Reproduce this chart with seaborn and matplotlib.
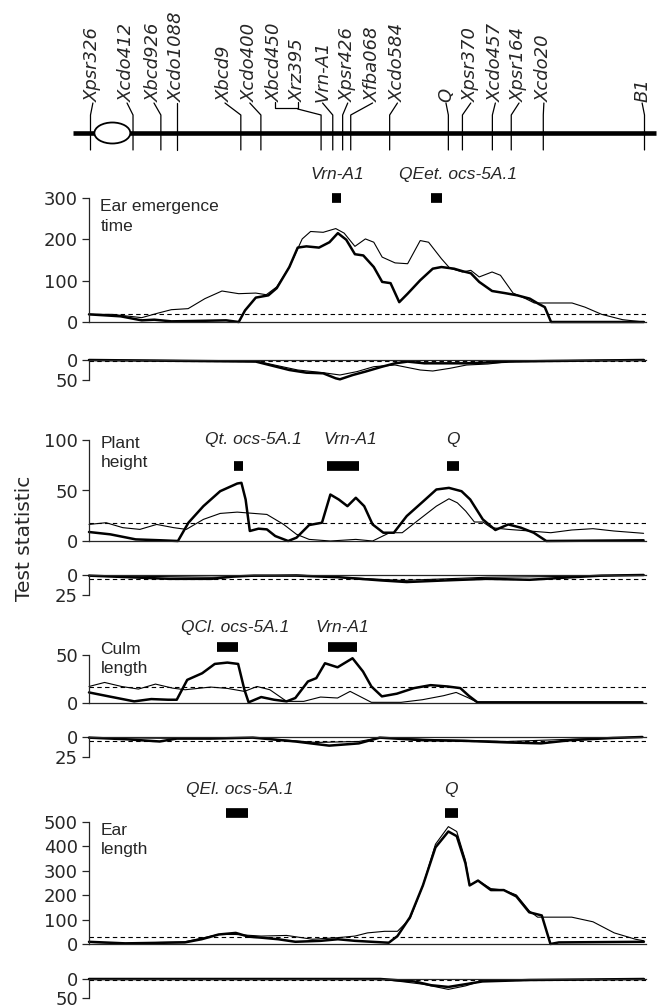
import matplotlib
matplotlib.use("Agg")
import matplotlib.pyplot as plt
from matplotlib.patches import Ellipse
import numpy as np
import pandas as pd
import seaborn as sns

# ---- chromosome 5A map (cM) ----
marker_names = ["Xpsr326", "Xcdo412", "Xbcd926", "Xcdo1088", "Xbcd9", "Xcdo400",
                "Xbcd450", "Xrz395", "Vrn-A1", "Xpsr426", "Xfba068", "Xcdo584",
                "Q", "Xpsr370", "Xcdo457", "Xpsr164", "Xcdo20", "B1"]
marker_cm = [0.5, 14.7, 24, 29.4, 50.7, 57.4, 77.5, 77.5, 81.4, 84.7, 87.4, 100.4,
             120, 124.7, 134.7, 141, 151.7, 185.5]
marker_label_cm = [1.3, 12.7, 21.7, 29.4, 45.4, 53.7, 62.1, 69.7, 78, 86.4, 94.7, 103,
                   119.2, 127.5, 135.7, 143.6, 151.9, 184.7]

# ---- ear emergence time ----
ee_thick_cm = [0, 10.6, 17.6, 21.8, 27.5, 34.5, 45.8, 50, 52.1, 55.7, 59.9, 62.7, 66.9, 69.7,
               72.6, 76.8, 80.3, 83.1, 85.9, 88.8, 91.6, 95.1, 97.9, 100.7, 103.6, 106.4,
               110.6, 114.8, 117.7, 121.9, 124.7, 127.5, 130.3, 134.6, 138.8, 143, 147.2,
               150.1, 152.2, 154.3, 185.3]
ee_thick_val = [18.5, 13.7, 4, 5.6, 1.6, 2.4, 4, 0, 28, 59, 64.5, 82, 133, 180,
                183, 180, 193, 215, 199, 164, 161, 133, 97, 94, 48, 68.5,
                101, 129, 133, 129, 123, 118, 97, 75, 70, 64.5, 56.5,
                44, 36, 0, 0]
ee_thin_cm = [0, 7.7, 17.6, 23.2, 27.5, 33.1, 38.7, 44.4, 50, 55.7, 59.2, 62.7, 66.9, 71.2,
              74, 78.2, 82.4, 85.2, 88.8, 92.3, 95.1, 97.9, 102.2, 106.4, 110.6, 113.4,
              117.7, 120.5, 124.7, 127.5, 130.3, 134.6, 137.4, 141.6, 145.8, 148.7, 161.3,
              165.6, 171.2, 178.2, 185.3]
ee_thin_val = [18.5, 18.5, 10.5, 21.8, 29.8, 32.3, 56.5, 75, 68.5, 70, 66, 85, 133, 201,
               219, 217, 226, 215, 183, 201, 193, 157, 143, 141, 197, 193,
               153, 130, 121, 125, 109, 121, 113, 70, 56.5, 46, 46,
               36, 18.5, 5.6, 0]
ee_mini_thick_cm = [0, 55.7, 66.9, 72.6, 78.2, 82.4, 83.8, 88.1, 92.3, 97.9, 102.2, 106.4,
                    112, 126.1, 140.2, 154.3, 185.3]
ee_mini_thick_val = [0, 4, 25, 31.7, 33.3, 45.8, 48.3, 37.5, 29, 16.7, 8.3, 4,
                     8.3, 8.3, 4, 2.5, 0]
ee_mini_thin_cm = [0, 55.7, 69.7, 78.2, 83.8, 89.5, 95.1, 102.2, 110.6, 114.8, 120.5, 126.1,
                   133.2, 140.2, 154.3, 185.3]
ee_mini_thin_val = [0, 2.5, 25, 31.7, 37.5, 29, 16.7, 12.5, 25, 27.5, 20.8, 12.5,
                    10, 4, 1.7, 0]

# ---- plant height ----
ph_thick_cm = [0, 7.1, 15.6, 24, 29.7, 33.2, 38.2, 43.8, 49.5, 50.9, 52.3, 53.7, 56.6, 59.4,
               62.2, 66.5, 69.3, 73.5, 77.8, 80.6, 83.4, 86.3, 89.1, 91.9, 94.7, 98.3,
               101.8, 106.1, 111.7, 116, 120.2, 124.4, 127.3, 131.5, 135.7, 140, 144.2,
               148.5, 152.7, 185.2]
ph_thick_val = [8.9, 6.6, 1.6, 0.7, 0, 18.1, 34.5, 49.3, 56.9, 57.6, 41.1, 9.9, 12.2, 11.5,
                4.9, 0, 3.3, 15.8, 18.1, 46, 41.1, 34.5, 42.8, 34.5, 16.4, 8.2,
                8.2, 24.7, 39.5, 51, 52.6, 49.3, 41.1, 21.4, 10.9, 16.4, 13.2,
                8.2, 0, 0.7]
ph_thin_cm = [0, 5.7, 11.3, 17, 22.6, 28.3, 32.5, 38.2, 43.8, 49.5, 55.1, 59.4, 65, 69.3,
              73.5, 80.6, 89.1, 94.7, 100.4, 104.6, 110.3, 116, 120.2, 123, 125.8, 128.7,
              131.5, 134.3, 140, 147.1, 154.2, 161.2, 168.3, 175.3, 185.2]
ph_thin_val = [16.4, 18.1, 13.2, 11.5, 16.4, 13.2, 11.5, 21.4, 27.3, 28.6, 27.3, 26.3, 16.4, 6.6,
               1.6, 0, 1.6, 0, 8.2, 8.2, 21.4, 34.5, 41.8, 37.8, 29.6, 18.8,
               18.8, 13.2, 11.5, 9.9, 8.2, 10.9, 12.2, 9.9, 7.6]
ph_mini_thick_cm = [0, 26.9, 41, 48.1, 55.1, 69.3, 83.4, 97.6, 106.1, 118.8, 132.9, 147.1,
                    161.2, 171.1, 185.2]
ph_mini_thick_val = [0.8, 4.8, 4.8, 2, 0.8, 0.8, 2.8, 6.8, 8.8, 6.8, 4.8, 6,
                     2.8, 0.8, 0]
ph_mini_thin_cm = [0, 41, 69.3, 83.4, 104.6, 118.8, 132.9, 154.2, 185.2]
ph_mini_thin_val = [0.8, 2.8, 0, 2.8, 6.8, 4.8, 2.8, 2, 0]

# ---- culm length ----
cl_thick_cm = [0, 6.6, 15.1, 20.8, 26.4, 29.3, 32.8, 37.8, 42, 46.2, 49.8, 51.9, 53.3, 57.5,
               61.8, 66, 68.9, 73.1, 75.9, 78.8, 83, 88, 91.5, 94.3, 97.8, 102.8,
               108.5, 114.1, 119.8, 124, 126.8, 129.7, 153.7, 184.8]
cl_thick_val = [11, 6.9, 1.7, 4.1, 3.4, 3.4, 24.1, 31, 40.7, 42.1, 40.7, 13.8, 0.7, 6.2,
                3.4, 1.7, 5.2, 22.4, 25.9, 41.4, 37.2, 46.6, 32.8, 17.2, 6.9, 9.7,
                15.5, 18.6, 17.2, 15.5, 7.6, 0.7, 0.7, 0.7]
cl_thin_cm = [0, 5.2, 10.9, 16.5, 22.2, 27.9, 32.1, 40.6, 46.2, 51.9, 56.1, 60.4, 66, 71.7,
              77.3, 83, 87.2, 91.5, 94.3, 104.2, 111.3, 118.4, 122.6, 126.8, 129.7, 184.8]
cl_thin_val = [17.2, 21.4, 17.2, 14.5, 19.7, 15.5, 13.8, 16.6, 15.2, 12.1, 17.2, 13.8, 1.7, 1.7,
               6.2, 5.2, 12.1, 5.2, 0.7, 0.7, 3.4, 7.6, 11, 5.2, 0.7, 0.7]
cl_mini_thick_cm = [0, 12.3, 23.6, 29.3, 40.6, 54.7, 68.9, 80.2, 90.1, 97.1, 111.3, 125.4,
                    139.6, 150.9, 160.8, 174.9, 184.8]
cl_mini_thick_val = [0.8, 2.8, 5.6, 2, 2, 0.8, 5.6, 10.8, 8, 0.8, 4, 4.8,
                     6.8, 8, 4, 1.2, 0]
cl_mini_thin_cm = [0, 26.4, 54.7, 75.9, 90.1, 97.1, 118.4, 139.6, 160.8, 184.8]
cl_mini_thin_val = [0.8, 1.6, 0.8, 6.8, 5.6, 0.8, 3.6, 5.6, 2.8, 0]

# ---- ear length ----
el_thick_cm = [0, 12.1, 32, 37.6, 43.3, 49, 53.3, 57.5, 63.2, 68.9, 77.4, 83.1, 88.8, 94.4,
               100.1, 103, 107.2, 111.5, 115.7, 120, 122.8, 125.7, 127.1, 129.9, 134.2,
               138.5, 142.7, 147, 151.2, 154.1, 156.9, 185.3]
el_thick_val = [9, 2.6, 6.5, 19.5, 39, 45.5, 29.9, 26, 19.5, 9.1, 13, 19.5, 13, 9.1,
                5.2, 32.5, 110, 240, 396, 461, 442, 331, 240, 260, 221,
                221, 195, 130, 117, 0, 6.5, 9.1]
el_thin_cm = [0, 12.1, 32, 43.3, 49, 57.5, 66, 74.6, 83.1, 88.8, 93, 98.7, 103, 107.2,
              111.5, 115.7, 120, 122.8, 125.7, 127.1, 129.9, 134.2, 138.5, 142.7, 147,
              149.8, 161.2, 168.3, 175.4, 182.5, 185.3]
el_thin_val = [6.5, 2.6, 9.1, 39, 39, 32.5, 35.1, 19.5, 26, 32.5, 45.5, 52, 52, 104,
               240, 409, 481, 461, 344, 240, 260, 227, 221, 201, 136,
               110, 110, 91, 45.5, 19.5, 13]
el_mini_thick_cm = [0, 97.3, 108.6, 114.3, 120, 125.7, 131.4, 147, 185.3]
el_mini_thick_val = [0, 0, 6.4, 16.4, 20.9, 13.7, 6.4, 2.7, 0]
el_mini_thin_cm = [0, 97.3, 111.5, 120, 125.7, 131.4, 185.3]
el_mini_thin_val = [0, 0, 13.7, 27.3, 18.2, 4.6, 0]

# significance thresholds
thresholds = [20, 18, 17, 30]
mini_thresholds = [2, 5, 5, 3]

# QTL intervals (start cM, end cM) and their names
qtl_names = [["Vrn-A1", "QEet. ocs-5A.1"],
             ["Qt. ocs-5A.1", "Vrn-A1", "Q"],
             ["QCl. ocs-5A.1", "Vrn-A1"],
             ["QEl. ocs-5A.1", "Q"]]
qtl_start = [[81.3, 114.2], [48.5, 79.5, 119.5], [42.7, 79.9], [45.9, 119.0]]
qtl_end = [[84.1, 117.9], [51.3, 90.2, 123.7], [49.8, 89.4], [53.0, 123.1]]
qtl_label_cm = [[83, 123.3], [55, 87.4, 121.6], [48.8, 84.6], [50.4, 121]]

trait_labels = ["Ear emergence\ntime", "Plant\nheight", "Culm\nlength", "Ear\nlength"]

# ---------------- layout ----------------
W, H = 660, 1007
LEFT, RIGHT = 89, 646
XMAX = 186

sns.set_style("ticks")
plt.rcParams["font.family"] = ["DejaVu Sans"]
plt.rcParams["axes.linewidth"] = 0.9
narrow = ["Liberation Sans Narrow", "Liberation Sans", "DejaVu Sans"]


def rect(top, bottom, left=LEFT, right=RIGHT):
    return [left / W, 1 - bottom / H, (right - left) / W, (bottom - top) / H]


fig = plt.figure(figsize=(W / 100, H / 100), dpi=100)

# chromosome map
mx = fig.add_axes(rect(0, 160))
mx.set_xlim(0, XMAX)
mx.set_ylim(160, 0)
mx.axis("off")
mx.plot([-5.3, 189.3], [133, 133], color="black", lw=3.3, solid_capstyle="butt", clip_on=False)
mx.add_patch(Ellipse((7.8, 133), 12, 21, facecolor="white", edgecolor="black", lw=1.3,
                     zorder=3, clip_on=False))
for name, pos, lab in zip(marker_names, marker_cm, marker_label_cm):
    mx.text(lab, 102, name, rotation=90, ha="center", va="bottom", fontsize=13,
            style="italic")
    if name in ("Xbcd450", "Xrz395"):
        continue
    mx.plot([lab, pos, pos], [103, 115, 150], color="black", lw=0.9, clip_on=False)
# bracket joining Xbcd450 and Xrz395
i1, i2 = marker_names.index("Xbcd450"), marker_names.index("Xrz395")
l1, l2 = marker_label_cm[i1], marker_label_cm[i2]
mx.plot([l1, l1, l2, l2], [102, 108, 108, 102], color="black", lw=0.9)
mx.plot([l2, marker_cm[i1], marker_cm[i1]], [109, 115, 150], color="black", lw=0.9)

panels = [
    dict(main=(198, 322), mini=(360, 380), ymax=300, yticks=[0, 100, 200, 300],
         mmax=50, mticks=[0, 50], lab_y=255, qtl_y=300, qlab_y=356,
         thick=(ee_thick_cm, ee_thick_val), thin=(ee_thin_cm, ee_thin_val),
         mthick=(ee_mini_thick_cm, ee_mini_thick_val), mthin=(ee_mini_thin_cm, ee_mini_thin_val)),
    dict(main=(440, 541), mini=(575, 595), ymax=100, yticks=[0, 50, 100],
         mmax=25, mticks=[0, 25], lab_y=87, qtl_y=74.5, qlab_y=100,
         thick=(ph_thick_cm, ph_thick_val), thin=(ph_thin_cm, ph_thin_val),
         mthick=(ph_mini_thick_cm, ph_mini_thick_val), mthin=(ph_mini_thin_cm, ph_mini_thin_val)),
    dict(main=(655, 703), mini=(737, 757), ymax=50, yticks=[0, 50],
         mmax=25, mticks=[0, 25], lab_y=46, qtl_y=58, qlab_y=79,
         thick=(cl_thick_cm, cl_thick_val), thin=(cl_thin_cm, cl_thin_val),
         mthick=(cl_mini_thick_cm, cl_mini_thick_val), mthin=(cl_mini_thin_cm, cl_mini_thin_val)),
    dict(main=(822, 944), mini=(979, 998), ymax=500, yticks=[0, 100, 200, 300, 400, 500],
         mmax=50, mticks=[0, 50], lab_y=427, qtl_y=537, qlab_y=634,
         thick=(el_thick_cm, el_thick_val), thin=(el_thin_cm, el_thin_val),
         mthick=(el_mini_thick_cm, el_mini_thick_val), mthin=(el_mini_thin_cm, el_mini_thin_val)),
]

for k, p in enumerate(panels):
    ax = fig.add_axes(rect(*p["main"]))
    ax.set_xlim(0, XMAX)
    ax.set_ylim(0, p["ymax"])
    sns.lineplot(x=p["thin"][0], y=p["thin"][1], ax=ax, color="black", lw=0.8, clip_on=False)
    sns.lineplot(x=p["thick"][0], y=p["thick"][1], ax=ax, color="black", lw=1.8, clip_on=False)
    ax.axhline(thresholds[k], color="black", lw=0.8, ls=(0, (4, 3)))
    sns.despine(ax=ax)
    ax.set_xticks([])
    ax.set_yticks(p["yticks"])
    ax.tick_params(axis="y", length=5, width=0.9, labelsize=13, pad=3)
    ax.text(3.8, p["lab_y"], trait_labels[k], ha="left", va="center", fontsize=12.5,
            family=narrow, linespacing=1.35)
    for name, s, e, lx in zip(qtl_names[k], qtl_start[k], qtl_end[k], qtl_label_cm[k]):
        ax.plot([s, e], [p["qtl_y"]] * 2, color="black", lw=7, solid_capstyle="butt",
                clip_on=False)
        ax.text(lx, p["qlab_y"], name, ha="center", va="center", fontsize=12.5,
                style="italic", family=narrow, clip_on=False)

    mx2 = fig.add_axes(rect(*p["mini"]))
    mx2.set_xlim(0, XMAX)
    mx2.set_ylim(p["mmax"], 0)
    sns.lineplot(x=p["mthin"][0], y=p["mthin"][1], ax=mx2, color="black", lw=0.8, clip_on=False)
    sns.lineplot(x=p["mthick"][0], y=p["mthick"][1], ax=mx2, color="black", lw=1.8, clip_on=False)
    mx2.axhline(mini_thresholds[k], color="black", lw=0.8, ls=(0, (4, 3)))
    sns.despine(ax=mx2, top=False, bottom=True)
    mx2.set_xticks([])
    mx2.set_yticks(p["mticks"])
    mx2.tick_params(axis="y", length=5, width=0.9, labelsize=13, pad=3)

fig.text(25 / W, 1 - 538 / H, "Test statistic", rotation=90, ha="center", va="center",
         fontsize=14.5)

fig.savefig("out.png", dpi=100)
